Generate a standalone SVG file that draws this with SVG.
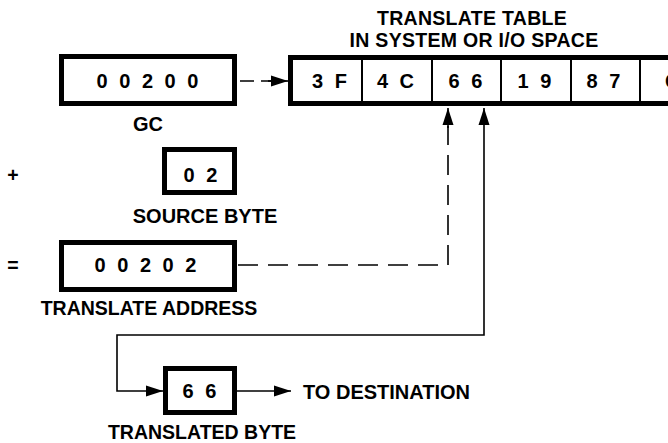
<svg xmlns="http://www.w3.org/2000/svg" width="668" height="443" viewBox="0 0 668 443">
<defs>
<style>
text{font-family:"Liberation Sans",Arial,sans-serif;font-weight:bold;fill:#000;font-size:19.5px}
.c{text-anchor:middle}
.t{font-size:19.5px;letter-spacing:0.3px}
.d{letter-spacing:3px;font-size:20px}
.box{fill:#fff;stroke:#000;stroke-width:5}
.div{stroke:#000;stroke-width:2}
.ln{fill:none;stroke:#000;stroke-width:1.6}
.dash{stroke-dasharray:20 10}
</style>
<marker id="ah" markerUnits="userSpaceOnUse" markerWidth="18" markerHeight="12" refX="17" refY="6" orient="auto-start-reverse">
<path d="M0,0.5 L17,6 L0,11.5 Z" fill="#000"/>
</marker>
</defs>
<rect width="668" height="443" fill="#fff"/>

<g id="title">
<text class="c t" x="472" y="25">TRANSLATE TABLE</text>
<text class="c t" x="474" y="47">IN SYSTEM OR I/O SPACE</text>
</g>

<g id="table">
<rect class="box" x="290.5" y="57.5" width="420" height="46"/>
<line class="div" x1="362" y1="58" x2="362" y2="103"/>
<line class="div" x1="432" y1="58" x2="432" y2="103"/>
<line class="div" x1="501" y1="58" x2="501" y2="103"/>
<line class="div" x1="571" y1="58" x2="571" y2="103"/>
<line class="div" x1="640" y1="58" x2="640" y2="103"/>
<text class="c d" x="331" y="88">3 F</text>
<text class="c d" x="397" y="88">4 C</text>
<text class="c d" x="467" y="88">6 6</text>
<text class="c d" x="536" y="88">1 9</text>
<text class="c d" x="605" y="88">8 7</text>
<text x="665" y="88">C</text>
</g>

<g id="gc">
<rect class="box" x="61.5" y="56.5" width="173" height="47"/>
<text class="c d" x="149" y="88">0 0 2 0 0</text>
<text class="c" x="148" y="131" style="font-size:20px">GC</text>
</g>

<g id="plus"><text class="c" x="13" y="182" font-size="18">+</text></g>

<g id="source">
<rect class="box" x="164.5" y="149.5" width="70" height="43"/>
<text class="c d" x="202" y="182">0 2</text>
<text class="c" x="205" y="223" style="font-size:20px">SOURCE BYTE</text>
</g>

<g id="equals"><text class="c" x="13" y="272" font-size="18">=</text></g>

<g id="address">
<rect class="box" x="61.5" y="242.5" width="173" height="47"/>
<text class="c d" x="147" y="272">0 0 2 0 2</text>
<text class="c" x="149" y="315">TRANSLATE ADDRESS</text>
</g>

<g id="translated">
<rect class="box" x="165.5" y="368.5" width="69" height="44"/>
<text class="c d" x="201" y="398">6 6</text>
<text class="c" x="202" y="439">TRANSLATED BYTE</text>
</g>

<g id="dest"><text x="303" y="399" style="font-size:20px">TO DESTINATION</text></g>

<g id="connectors">
<path class="ln" d="M240,81 H272" style="stroke-dasharray:14 7"/>
<path class="ln" d="M268,81 H288" marker-end="url(#ah)"/>
<path class="ln dash" d="M238,265 H448 V126"/>
<path class="ln" d="M448,128 V108" marker-end="url(#ah)"/>
<path class="ln" d="M484,108 V335 H117 V391 H163" marker-start="url(#ah)" marker-end="url(#ah)"/>
<path class="ln" d="M237,391 H291" marker-end="url(#ah)"/>
</g>
</svg>
